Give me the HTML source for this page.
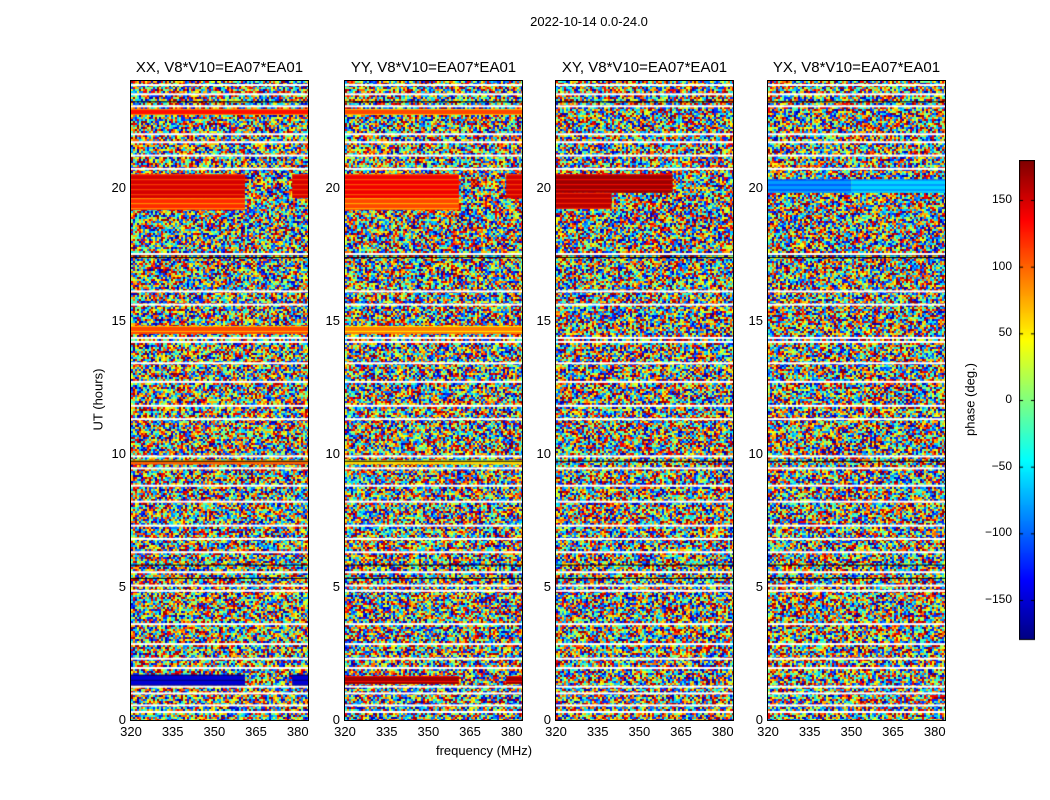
<!DOCTYPE html>
<html><head><meta charset="utf-8">
<style>
html,body{margin:0;padding:0;background:#fff;}
#root{position:relative;width:1050px;height:800px;font-family:"Liberation Sans",sans-serif;color:#000;overflow:hidden;}
.t{position:absolute;white-space:nowrap;}
canvas{position:absolute;}
</style></head>
<body><div id="root">
<div class="t" style="left:489px;top:14px;width:200px;text-align:center;font-size:13px;">2022-10-14 0.0-24.0</div>
<div class="t" style="left:384px;top:743px;width:200px;text-align:center;font-size:13px;">frequency (MHz)</div>
<div class="t" style="left:48px;top:392px;width:100px;text-align:center;font-size:13px;transform:rotate(-90deg);">UT (hours)</div>
<div class="t" style="left:920px;top:392px;width:100px;text-align:center;font-size:13px;transform:rotate(-90deg);">phase (deg.)</div>
<canvas id="cb" style="left:1019px;top:160px;" width="16" height="481"></canvas>
</div>
<script>
// ---- data ----
const panelTitles=["XX, V8*V10=EA07*EA01","YY, V8*V10=EA07*EA01","XY, V8*V10=EA07*EA01","YX, V8*V10=EA07*EA01"];
const xTicks=[320,335,350,365,380];
const yTicks=[0,5,10,15,20];
const cbTicks=[150,100,50,0,-50,-100,-150];
// coherent bands per panel: [tStart,tEnd,fStart,fEnd,phaseDeg]
const bandsXX=[[19.6,20.5,320,361,150],[19.15,19.6,320,361,120],[19.6,20.5,378,384,150],[1.3,1.7,320,361,-150],[1.3,1.7,378,384,-150],[14.5,14.8,320,384,110],[22.75,22.95,320,384,130],[9.6,9.75,320,384,100]];
const bandsYY=[[19.6,20.5,320,361,140],[19.15,19.6,320,361,110],[19.6,20.5,378,384,150],[1.35,1.65,320,361,170],[1.35,1.65,378,384,170],[14.5,14.8,320,384,90],[22.75,22.95,320,384,110],[9.6,9.75,320,384,60]];
const bandsXY=[[19.8,20.5,320,362,170],[19.2,19.8,320,340,160]];
const bandsYX=[[19.8,20.3,320,350,-80],[19.8,20.3,350,384,-60]];
const allBands=[bandsXX,bandsYY,bandsXY,bandsYX];
const gapRows=[0.3,0.55,1.0,1.25,1.95,2.3,2.85,3.6,4.85,5.05,5.55,6.3,6.8,7.3,8.2,8.8,9.45,9.9,11.3,11.8,12.7,13.4,14.2,14.35,15.6,16.1,17.5,20.7,21.2,21.7,22.0,23.05,23.5,23.85];
const darkRows=[5.3,5.8,9.7,17.35,17.45,23.2];
// texture phases (visual noise, not measured data)
const texture=[170,-120,40,-20,100,-160,10,-60,140,-90,70];

// ---- geometry ----
const panelLefts=[131,345,556,768];
const PW=177, PT=81, PB=720;
const fMin=320,fMax=383.7,tMin=0,tMax=24;
const root=document.getElementById('root');
function xS(f,i){return panelLefts[i]+(f-fMin)/(fMax-fMin)*PW;}
function yS(t){return PB-(t-tMin)/(tMax-tMin)*(PB-PT);}
function jet(v){
  const c=x=>Math.max(0,Math.min(1,x));
  const r=c(1.5-Math.abs(4*v-3)),g=c(1.5-Math.abs(4*v-2)),b=c(1.5-Math.abs(4*v-1));
  return `rgb(${Math.round(r*255)},${Math.round(g*255)},${Math.round(b*255)})`;
}
function ph(p){return jet((p+180)/360);}

panelTitles.forEach((title,i)=>{
  const cv=document.createElement('canvas');
  
  
  cv.width=PW;cv.height=PB-PT;
  cv.style.left=panelLefts[i]+'px';cv.style.top=PT+'px';
  cv.style.outline='1px solid #000';
  root.appendChild(cv);
  const ctx=cv.getContext('2d');
  const cs=2;
  for(let r=0;r*cs<cv.height;r++){for(let c=0;c*cs<PW;c++){
    const h=((r*r*13+c*c*7+r*c*5+i*17+r*31+c*11)>>>1);
    const k=(h^(h>>3))%texture.length;
    ctx.fillStyle=ph(texture[k]);ctx.fillRect(c*cs,r*cs,cs,cs);}}
  allBands[i].forEach(b=>{
    const x0=xS(b[2],i)-panelLefts[i],x1=xS(b[3],i)-panelLefts[i];
    const y0=yS(b[1])-PT,y1=yS(b[0])-PT;
    ctx.fillStyle=ph(b[4]);ctx.fillRect(x0,y0,x1-x0,y1-y0);
    ctx.fillStyle=ph(b[4]-40);
    for(let y=y0;y<y1;y+=5)ctx.fillRect(x0,y,x1-x0,1);
  });
  darkRows.forEach(t=>{ctx.fillStyle='#000';ctx.fillRect(0,yS(t)-PT-1,PW,1);});
  gapRows.forEach(t=>{ctx.fillStyle='#fff';ctx.fillRect(0,yS(t)-PT-1,PW,2);});
  const tt=document.createElement('div');
  tt.className='t';
  
  
  tt.style.cssText=`left:${panelLefts[i]-20}px;top:59px;width:${PW+40}px;text-align:center;font-size:15px;`;
  tt.textContent=title;root.appendChild(tt);
  xTicks.forEach(v=>{
    const l=document.createElement('div');l.className='t';
    
    
    l.style.cssText=`left:${xS(v,i)-20}px;top:724px;width:40px;text-align:center;font-size:13px;`;
    l.textContent=v;root.appendChild(l);
  });
  yTicks.forEach(v=>{
    const l=document.createElement('div');l.className='t';
    
    
    l.style.cssText=`left:${panelLefts[i]-45}px;top:${yS(v)-8}px;width:40px;text-align:right;font-size:13px;`;
    l.textContent=v;root.appendChild(l);
  });
});
// colorbar
const cb=document.getElementById('cb'),cctx=cb.getContext('2d');
const cbTop=160,cbBot=640;
function cbY(v){return cbBot-(v+180)/360*(cbBot-cbTop);}
for(let y=0;y<480;y++){cctx.fillStyle=jet(1-y/480);cctx.fillRect(0,y,16,1);}
cctx.strokeStyle='#000';cctx.strokeRect(0.5,0.5,15,479);
cbTicks.forEach(v=>{
  const l=document.createElement('div');l.className='t';
  
  
  l.style.cssText=`left:${976}px;top:${cbY(v)-8}px;width:36px;text-align:right;font-size:12px;`;
  l.textContent=v<0?'\u2212'+(-v):v;root.appendChild(l);
  cctx.fillStyle='#000';cctx.fillRect(0,cbY(v)-cbTop,4,1);cctx.fillRect(12,cbY(v)-cbTop,4,1);
});
</script>
</body></html>
